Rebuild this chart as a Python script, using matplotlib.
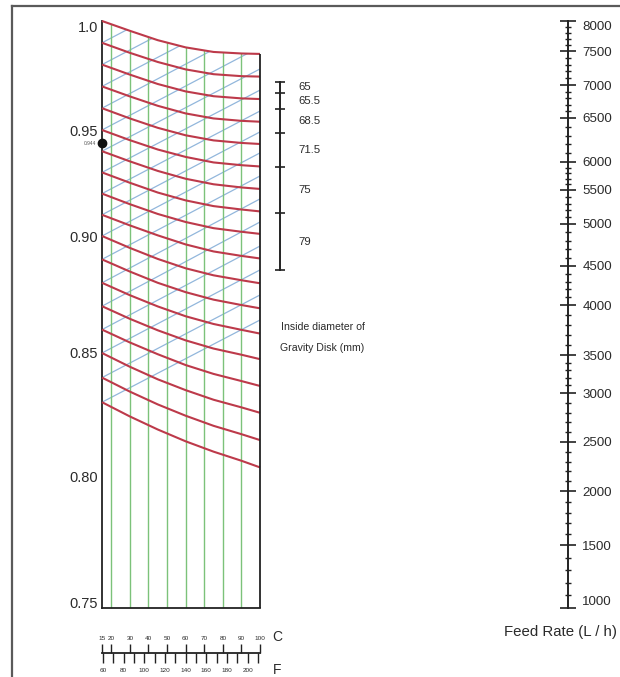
import numpy as np
import matplotlib
matplotlib.use("Agg")
import matplotlib.pyplot as plt
from matplotlib.patches import Polygon
from matplotlib.lines import Line2D
from matplotlib.transforms import blended_transform_factory

# ---------------- data ----------------
temps_c = [15, 30, 45, 60, 75, 90, 100]
d15 = [1.00, 0.99, 0.98, 0.97, 0.96, 0.95, 0.94, 0.93, 0.92,
       0.91, 0.90, 0.89, 0.88, 0.87, 0.86, 0.85, 0.84, 0.83]
red_curves = [
    [1.0000, 0.9955, 0.9912, 0.9879, 0.9858, 0.9851, 0.9849],
    [0.9900, 0.9854, 0.9812, 0.9778, 0.9756, 0.9747, 0.9745],
    [0.9800, 0.9754, 0.9711, 0.9677, 0.9655, 0.9645, 0.9642],
    [0.9700, 0.9654, 0.9611, 0.9576, 0.9553, 0.9542, 0.9538],
    [0.9600, 0.9553, 0.9510, 0.9475, 0.9451, 0.9439, 0.9434],
    [0.9500, 0.9452, 0.9408, 0.9373, 0.9347, 0.9334, 0.9328],
    [0.9400, 0.9352, 0.9307, 0.9270, 0.9244, 0.9229, 0.9222],
    [0.9300, 0.9251, 0.9205, 0.9168, 0.9141, 0.9125, 0.9116],
    [0.9200, 0.9150, 0.9104, 0.9066, 0.9037, 0.9020, 0.9010],
    [0.9100, 0.9050, 0.9003, 0.8964, 0.8934, 0.8915, 0.8904],
    [0.9000, 0.8949, 0.8902, 0.8862, 0.8832, 0.8811, 0.8798],
    [0.8900, 0.8848, 0.8800, 0.8760, 0.8728, 0.8705, 0.8691],
    [0.8800, 0.8747, 0.8699, 0.8657, 0.8624, 0.8599, 0.8583],
    [0.8700, 0.8646, 0.8597, 0.8554, 0.8519, 0.8493, 0.8475],
    [0.8600, 0.8545, 0.8495, 0.8451, 0.8415, 0.8386, 0.8366],
    [0.8500, 0.8444, 0.8393, 0.8349, 0.8310, 0.8279, 0.8257],
    [0.8400, 0.8343, 0.8291, 0.8245, 0.8204, 0.8170, 0.8146],
    [0.8300, 0.8242, 0.8189, 0.8141, 0.8099, 0.8062, 0.8035],
]
blue_end_100 = [1.0381, 1.0280, 1.0179, 1.0078, 0.9982, 0.9881, 0.9780,
                0.9683, 0.9587, 0.9491, 0.9392, 0.9283, 0.9175, 0.9066,
                0.8957, 0.8855, 0.8748, 0.8641]
green_temps = [20, 30, 40, 50, 60, 70, 80, 90]
density_ticks = [0.75, 0.80, 0.85, 0.90, 0.95, 1.0]
density_labels = ["0.75", "0.80", "0.85", "0.90", "0.95", "1.0"]
marker_density = 0.944
disk_bounds = [0.9722, 0.9668, 0.9595, 0.9484, 0.9324, 0.9107, 0.8855]
disk_labels = ["65", "65.5", "68.5", "71.5", "75", "79"]
feed_major = [1000, 1500, 2000, 2500, 3000, 3500, 4000, 4500,
              5000, 5500, 6000, 6500, 7000, 7500, 8000]
feed_minor = [v for v in range(1000, 8001, 100) if v % 500]
c_ticks = [15, 20, 30, 40, 50, 60, 70, 80, 90, 100]
f_major = [60, 80, 100, 120, 140, 160, 180, 200]
f_minor = [70, 90, 110, 130, 150, 170, 190, 210]

# ---------------- axis scale geometry (non-linear nomogram scales) ----------------
DENS_REF = np.array([0.65, 0.75, 0.80, 0.85, 0.90, 0.95, 1.00, 1.10])
DENS_ROW = np.array([868, 608, 476, 353, 236, 130, 21, -197], float)
FEED_ROW = np.array([608, 545, 491, 442, 393, 355, 305, 266,
                     224, 190, 162, 118, 85, 51, 21], float)


def fwd_d(v):
    return -np.interp(v, DENS_REF, DENS_ROW)


def inv_d(v):
    return np.interp(v, -DENS_ROW, DENS_REF)


FEED_REF = np.array(feed_major, float)


def fwd_q(v):
    return -np.interp(v, FEED_REF, FEED_ROW)


def inv_q(v):
    return np.interp(v, -FEED_ROW, FEED_REF)


# ---------------- styling ----------------
plt.rcParams["font.family"] = ["Liberation Sans", "DejaVu Sans"]
RED = "#bd3a4a"
BLUE = "#92b7dc"
GREEN = "#7cc27a"
INK = "#222222"
TXT = "#2b2b2b"

W, H = 620, 677
fig = plt.figure(figsize=(W / 100, H / 100), dpi=100)
fig.patch.set_facecolor("white")


def box(x0, y0, x1, y1):
    return [x0 / W, 1 - y1 / H, (x1 - x0) / W, (y1 - y0) / H]


def fpt(x, y):
    return (x / W, 1 - y / H)


# ---------------- main grid ----------------
ax = fig.add_axes(box(102, 21, 260, 608))
ax.set_yscale("function", functions=(fwd_d, inv_d))
ax.patch.set_alpha(0)

top = red_curves[0]
clip = Polygon(list(zip(temps_c, top)) + [(100, 0.75), (15, 0.75)], closed=True,
               facecolor="none", edgecolor="none")
ax.add_patch(clip)

for s, e in zip(d15, blue_end_100):
    ln, = ax.plot([15, 100], [s, e], color=BLUE, lw=0.9, zorder=1)
    ln.set_clip_path(clip)

vl = ax.vlines(green_temps, 0.75, 1.0, color=GREEN, lw=1.0, zorder=2)
vl.set_clip_path(clip)

for vals in red_curves:
    ax.plot(temps_c, vals, color=RED, lw=1.5, zorder=3, clip_on=False,
            solid_capstyle="butt")

ax.vlines(100, 0.75, top[-1], color=INK, lw=1.3, zorder=4, clip_on=False)

ax.set_xlim(15, 100)
ax.set_ylim(0.75, 1.0)
for s in ("top", "right"):
    ax.spines[s].set_visible(False)
for s in ("left", "bottom"):
    ax.spines[s].set_color(INK)
    ax.spines[s].set_linewidth(1.3)
ax.set_xticks([])
ax.set_yticks(density_ticks, density_labels)
ax.tick_params(axis="y", length=0, pad=3, labelsize=10.5, labelcolor=TXT)
ylabs = ax.get_yticklabels()
ylabs[-1].set_va("top")
ylabs[0].set_va("baseline")

ax.plot([15], [marker_density], "o", color="#111111", ms=6, clip_on=False, zorder=6)
ax.annotate(f"{marker_density:.3f}", (15, marker_density), xytext=(-4, -0.5),
            textcoords="offset points", ha="right", va="center",
            fontsize=3.5, color="#555555")

# ---------------- gravity disk scale ----------------
ax_d = fig.add_axes(box(280, 21, 400, 608))
ax_d.set_yscale("function", functions=(fwd_d, inv_d))
ax_d.set_ylim(0.75, 1.0)
ax_d.set_xlim(0, 1)
ax_d.patch.set_alpha(0)
for s in ("top", "right", "bottom"):
    ax_d.spines[s].set_visible(False)
ax_d.spines["left"].set_bounds(min(disk_bounds), max(disk_bounds))
ax_d.spines["left"].set_linewidth(1.4)
ax_d.spines["left"].set_color(INK)
ax_d.set_xticks([])
ax_d.set_yticks(disk_bounds, [""] * len(disk_bounds))
ax_d.tick_params(axis="y", direction="inout", length=6.5, width=1.2, color=INK)
tr_d = blended_transform_factory(ax_d.transAxes, ax_d.transData)
for b0, b1, lab in zip(disk_bounds[:-1], disk_bounds[1:], disk_labels):
    mid = float(inv_d((fwd_d(b0) + fwd_d(b1)) / 2))
    ax_d.text(0.15, mid, lab, transform=tr_d, ha="left", va="center",
              fontsize=8.2, color=TXT)
fig.text(*fpt(281, 327), "Inside diameter of", ha="left", va="center",
         fontsize=7.6, color=TXT)
fig.text(*fpt(280, 348), "Gravity Disk (mm)", ha="left", va="center",
         fontsize=7.6, color=TXT)

# ---------------- feed rate scale ----------------
ax_q = fig.add_axes(box(500, 21, 568, 608))
ax_q.set_yscale("function", functions=(fwd_q, inv_q))
ax_q.set_ylim(1000, 8000)
ax_q.patch.set_alpha(0)
for s in ("top", "left", "bottom"):
    ax_q.spines[s].set_visible(False)
ax_q.spines["right"].set_linewidth(1.4)
ax_q.spines["right"].set_color(INK)
ax_q.set_xticks([])
ax_q.yaxis.tick_right()
ax_q.set_yticks(feed_major, [str(v) for v in feed_major])
ax_q.set_yticks(feed_minor, minor=True)
ax_q.tick_params(axis="y", which="major", direction="inout", length=11.5,
                 width=1.2, pad=4.5, labelsize=9.6, labelcolor=TXT, color=INK)
ax_q.tick_params(axis="y", which="minor", direction="inout", length=4.5,
                 width=1.0, color=INK)
qlabs = ax_q.get_yticklabels()
qlabs[0].set_va("bottom")
qlabs[-1].set_va("top")
fig.text(*fpt(560, 632), "Feed Rate (L / h)", ha="center", va="center",
         fontsize=10.8, color=TXT)

# ---------------- temperature scales ----------------
ax_c = fig.add_axes(box(102, 644, 260, 653))
ax_c.set_xlim(15, 100)
ax_c.patch.set_alpha(0)
for s in ("top", "left", "right"):
    ax_c.spines[s].set_visible(False)
ax_c.spines["bottom"].set_linewidth(1.3)
ax_c.spines["bottom"].set_color(INK)
ax_c.set_yticks([])
ax_c.xaxis.tick_top()
ax_c.set_xticks(c_ticks, [str(v) for v in c_ticks])
ax_c.tick_params(axis="x", direction="in", length=6.5, width=1.0, pad=2.5,
                 labelsize=4.6, labelcolor=TXT, color=INK)

ax_f = fig.add_axes(box(102, 653, 260, 663))
ax_f.set_xlim(59, 212)
ax_f.patch.set_alpha(0)
for s in ax_f.spines.values():
    s.set_visible(False)
ax_f.set_yticks([])
ax_f.set_xticks(f_major, [str(v) for v in f_major])
ax_f.set_xticks(f_minor, minor=True)
ax_f.tick_params(axis="x", which="both", direction="in", length=7.2, width=1.0,
                 pad=3.5, labelsize=4.6, labelcolor=TXT, color=INK)
fig.text(*fpt(277, 637), "C", ha="center", va="center", fontsize=10, color=TXT)
fig.text(*fpt(277, 670), "F", ha="center", va="center", fontsize=10, color=TXT)

# ---------------- outer frame ----------------
fig.add_artist(Line2D([12 / W, 1], [1 - 6 / H, 1 - 6 / H], transform=fig.transFigure,
                      color="#5a5a5a", lw=1.6))
fig.add_artist(Line2D([12 / W, 12 / W], [0, 1 - 6 / H], transform=fig.transFigure,
                      color="#5a5a5a", lw=1.6))

fig.savefig("out.png", dpi=100, facecolor="white")
